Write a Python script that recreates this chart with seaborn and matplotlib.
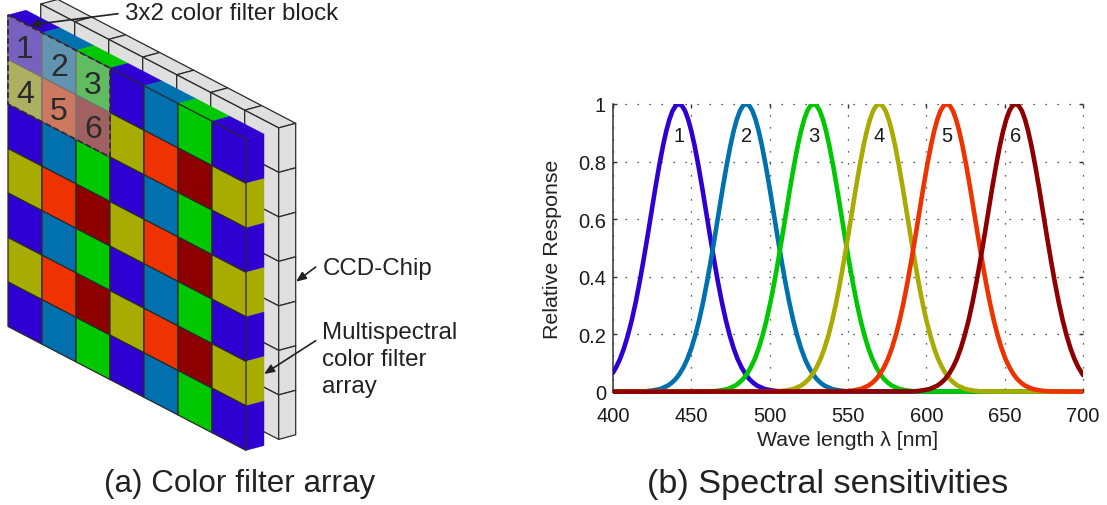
import pandas as pd
import seaborn as sns
import matplotlib.pyplot as plt
from matplotlib.patches import Polygon
from matplotlib.transforms import Bbox, TransformedBbox

# right panel : spectral curves
wave_1 = [400, 402, 404.5, 407, 409.5, 412, 414.5, 417, 419.5, 422, 424.5, 427, 429.5, 432, 434, 436, 438, 440, 442, 444, 446, 448, 450, 452, 454.5, 457, 459.5, 462, 464.5, 467, 469.5, 472, 474.5, 477, 479.5, 482, 484.5, 487, 489.5, 492, 497, 502, 507, 700]
resp_1 = [.066, .085, .114, .151, .196, .249, .311, .381, .458, .539, .623, .707, .786, .857, .906, .946, .976, .994, 1, .994, .976, .946, .906, .857, .786, .707, .623, .539, .458, .381, .311, .249, .196, .151, .114, .085, .062, .044, .031, .021, .009, .004, .001, 0]
wave_2 = [400, 420, 425, 430, 435, 437.5, 440, 442.5, 445, 447.5, 450, 452.5, 455, 457.5, 460, 462.5, 465, 467.5, 470, 472.5, 475, 477, 479, 481, 483, 485, 487, 489, 491, 493, 495, 497.5, 500, 502.5, 505, 507.5, 510, 512.5, 515, 517.5, 520, 522.5, 525, 527.5, 530, 532.5, 535, 540, 545, 550, 700]
resp_2 = [0, .001, .004, .009, .021, .031, .044, .062, .085, .114, .151, .196, .249, .311, .381, .458, .539, .623, .707, .786, .857, .906, .946, .976, .994, 1, .994, .976, .946, .906, .857, .786, .707, .623, .539, .458, .381, .311, .249, .196, .151, .114, .085, .062, .044, .031, .021, .009, .004, .001, 0]
wave_3 = [400, 463, 468, 473, 478, 480.5, 483, 485.5, 488, 490.5, 493, 495.5, 498, 500.5, 503, 505.5, 508, 510.5, 513, 515.5, 518, 520, 522, 524, 526, 528, 530, 532, 534, 536, 538, 540.5, 543, 545.5, 548, 550.5, 553, 555.5, 558, 560.5, 563, 565.5, 568, 570.5, 573, 575.5, 578, 583, 588, 593, 700]
resp_3 = [0, .001, .004, .009, .021, .031, .044, .062, .085, .114, .151, .196, .249, .311, .381, .458, .539, .623, .707, .786, .857, .906, .946, .976, .994, 1, .994, .976, .946, .906, .857, .786, .707, .623, .539, .458, .381, .311, .249, .196, .151, .114, .085, .062, .044, .031, .021, .009, .004, .001, 0]
wave_4 = [400, 505, 510, 515, 520, 522.5, 525, 527.5, 530, 532.5, 535, 537.5, 540, 542.5, 545, 547.5, 550, 552.5, 555, 557.5, 560, 562, 564, 566, 568, 570, 572, 574, 576, 578, 580, 582.5, 585, 587.5, 590, 592.5, 595, 597.5, 600, 602.5, 605, 607.5, 610, 612.5, 615, 617.5, 620, 625, 630, 635, 700]
resp_4 = [0, .001, .004, .009, .021, .031, .044, .062, .085, .114, .151, .196, .249, .311, .381, .458, .539, .623, .707, .786, .857, .906, .946, .976, .994, 1, .994, .976, .946, .906, .857, .786, .707, .623, .539, .458, .381, .311, .249, .196, .151, .114, .085, .062, .044, .031, .021, .009, .004, .001, 0]
wave_5 = [400, 548, 553, 558, 563, 565.5, 568, 570.5, 573, 575.5, 578, 580.5, 583, 585.5, 588, 590.5, 593, 595.5, 598, 600.5, 603, 605, 607, 609, 611, 613, 615, 617, 619, 621, 623, 625.5, 628, 630.5, 633, 635.5, 638, 640.5, 643, 645.5, 648, 650.5, 653, 655.5, 658, 660.5, 663, 668, 673, 678, 700]
resp_5 = [0, .001, .004, .009, .021, .031, .044, .062, .085, .114, .151, .196, .249, .311, .381, .458, .539, .623, .707, .786, .857, .906, .946, .976, .994, 1, .994, .976, .946, .906, .857, .786, .707, .623, .539, .458, .381, .311, .249, .196, .151, .114, .085, .062, .044, .031, .021, .009, .004, .001, 0]
wave_6 = [400, 592, 597, 602, 607, 609.5, 612, 614.5, 617, 619.5, 622, 624.5, 627, 629.5, 632, 634.5, 637, 639.5, 642, 644.5, 647, 649, 651, 653, 655, 657, 659, 661, 663, 665, 667, 669.5, 672, 674.5, 677, 679.5, 682, 684.5, 687, 689.5, 692, 694.5, 697, 700]
resp_6 = [0, .001, .004, .009, .021, .031, .044, .062, .085, .114, .151, .196, .249, .311, .381, .458, .539, .623, .707, .786, .857, .906, .946, .976, .994, 1, .994, .976, .946, .906, .857, .786, .707, .623, .539, .458, .381, .311, .249, .196, .151, .114, .085, .058]

filter_names = ["1", "2", "3", "4", "5", "6"]
peak_wave = [442, 485, 528, 570, 613, 657]
filter_colors = ["#2E00D2", "#0070AE", "#00C800", "#A8AC00", "#EE3300", "#8E0000"]
x_ticks = [400, 450, 500, 550, 600, 650, 700]
y_ticks = [0, 0.2, 0.4, 0.6, 0.8, 1]
y_tick_labels = ["0", "0.2", "0.4", "0.6", "0.8", "1"]

# left panel : layout of the filter array in pixels
n_cols, n_rows = 7, 7
col_step = (34.0, 17.7)
row_step = (0.0, 44.5)
filter_origin = (8.0, 16.0)
filter_depth = (18.0, -4.8)
chip_origin = (40.7, 5.0)
chip_depth = (17.0, -4.6)
chip_color = "#DFDFDF"
edge_color = "#2A2A2A"

sns.set_style("white")
plt.rcParams["font.family"] = ["Liberation Sans", "DejaVu Sans"]

W, H = 1107, 506
fig = plt.figure(figsize=(W / 100, H / 100), dpi=100)

# ---- left panel, drawn in pixel coords on a full figure axes
draw = fig.add_axes([0, 0, 1, 1])
draw.set_xlim(0, W)
draw.set_ylim(H, 0)
draw.axis("off")


def pt(origin, c, r, d=(0, 0)):
    return (origin[0] + c * col_step[0] + r * row_step[0] + d[0],
            origin[1] + c * col_step[1] + r * row_step[1] + d[1])


def quad(p, color, lw=0.9, z=1, edge=edge_color):
    draw.add_patch(Polygon(p, closed=True, facecolor=color, edgecolor=edge, lw=lw, zorder=z, joinstyle="round"))


# CCD chip, behind the filters
for c in range(n_cols):
    quad([pt(chip_origin, c, 0), pt(chip_origin, c + 1, 0), pt(chip_origin, c + 1, 0, chip_depth), pt(chip_origin, c, 0, chip_depth)], chip_color)
    for r in range(n_rows):
        quad([pt(chip_origin, c, r), pt(chip_origin, c + 1, r), pt(chip_origin, c + 1, r + 1), pt(chip_origin, c, r + 1)], chip_color)
for r in range(n_rows):
    quad([pt(chip_origin, n_cols, r), pt(chip_origin, n_cols, r, chip_depth), pt(chip_origin, n_cols, r + 1, chip_depth), pt(chip_origin, n_cols, r + 1)], chip_color)

# filter mosaic, 3x2 block repeated. top and side faces have no outline of their own
for c in range(n_cols):
    top = filter_colors[c % 3]
    quad([pt(filter_origin, c, 0), pt(filter_origin, c + 1, 0), pt(filter_origin, c + 1, 0, filter_depth), pt(filter_origin, c, 0, filter_depth)], top, lw=0.3, z=2, edge=top)
for r in range(n_rows):
    side = filter_colors[(n_cols - 1) % 3 + 3 * (r % 2)]
    quad([pt(filter_origin, n_cols, r), pt(filter_origin, n_cols, r, filter_depth), pt(filter_origin, n_cols, r + 1, filter_depth), pt(filter_origin, n_cols, r + 1)], side, lw=0.3, z=2, edge=side)
for c in range(n_cols):
    for r in range(n_rows):
        quad([pt(filter_origin, c, r), pt(filter_origin, c + 1, r), pt(filter_origin, c + 1, r + 1), pt(filter_origin, c, r + 1)], filter_colors[c % 3 + 3 * (r % 2)], z=2)

# highlighted block
block = [pt(filter_origin, 0, 0), pt(filter_origin, 3, 0), pt(filter_origin, 3, 2), pt(filter_origin, 0, 2)]
draw.add_patch(Polygon(block, closed=True, facecolor="#B2B2B2", alpha=0.55, edgecolor="none", zorder=3))
draw.add_patch(Polygon(block, closed=True, fill=False, edgecolor="#3A2636", lw=1.3, ls=(0, (3.2, 1.8)), zorder=4))
for i, name in enumerate(filter_names):
    c, r = i % 3, i // 3
    cx, cy = pt(filter_origin, c + 0.5, r + 0.5)
    draw.text(cx, cy + 3, name, fontsize=23, color="#2A2A2A", ha="center", va="center", zorder=5)

# annotations
draw.text(125, 13.5, "3x2 color filter block", fontsize=17.4, color="#222222", va="center")
draw.text(323, 268.5, "CCD-Chip", fontsize=17.4, color="#222222", va="center")
draw.text(322, 332.5, "Multispectral", fontsize=17.4, color="#222222", va="center")
draw.text(322, 359.5, "color filter", fontsize=17.4, color="#222222", va="center")
draw.text(322, 387.5, "array", fontsize=17.4, color="#222222", va="center")
arrow = dict(arrowstyle="-|>,head_length=0.6,head_width=0.25", color="#222222", lw=1.2, shrinkA=0, shrinkB=0)
draw.annotate("", xy=(30, 26), xytext=(118, 14.7), arrowprops=arrow, zorder=6)
draw.annotate("", xy=(296, 282.7), xytext=(315.7, 268), arrowprops=arrow, zorder=6)
draw.annotate("", xy=(264, 375), xytext=(315.7, 341.7), arrowprops=arrow, zorder=6)

# captions
draw.text(239.5, 484.5, "(a) Color filter array", fontsize=22.6, color="#222222", ha="center", va="center")
draw.text(828, 484.5, "(b) Spectral sensitivities", fontsize=24.7, color="#222222", ha="center", va="center")

# ---- right panel
ax = fig.add_axes([613 / W, 1 - 392.7 / H, 470 / W, 287.7 / H])
ax.patch.set_alpha(0)

frames = []
for name, w, v in zip(filter_names, [wave_1, wave_2, wave_3, wave_4, wave_5, wave_6], [resp_1, resp_2, resp_3, resp_4, resp_5, resp_6]):
    frames.append(pd.DataFrame({"wave": w, "resp": v, "filter": name}))
df = pd.concat(frames)

sns.lineplot(data=df, x="wave", y="resp", hue="filter", palette=filter_colors, estimator=None,
             sort=False, linewidth=3.3, legend=False, ax=ax, zorder=3)

ax.set_xlim(400, 700)
ax.set_ylim(0, 1)
ax.set_xticks(x_ticks)
ax.set_yticks(y_ticks)
ax.set_yticklabels(y_tick_labels)
ax.grid(True, color="#222222", lw=0.9, ls=(0, (1, 8.6)))
for g in ax.get_xgridlines() + ax.get_ygridlines():
    g.set_clip_on(False)
ax.tick_params(direction="in", length=3, width=1, color="#333333", labelsize=14.5, labelcolor="#1A1A1A",
               left=True, bottom=True, top=True, right=True)
ax.tick_params(axis="x", pad=10)
ax.tick_params(axis="y", pad=5)
ax.set_xlabel("Wave length λ [nm]", fontsize=15.3, color="#222222", va="center")
ax.set_ylabel("Relative Response", fontsize=15.4, color="#222222", va="center")
ax.xaxis.set_label_coords(0.5, (392.7 - 441) / 287.7)
ax.yaxis.set_label_coords((552 - 613) / 470, 0.5)
for s in ["top", "right"]:
    ax.spines[s].set_visible(False)
for s in ["left", "bottom"]:
    ax.spines[s].set_color("#333333")
    ax.spines[s].set_linewidth(1.1)

# the baseline stays whole, the peaks get cut at 1
clip = TransformedBbox(Bbox([[0, -0.02], [1, 1]]), ax.transAxes)
for line in ax.get_lines():
    if line not in ax.get_xgridlines() + ax.get_ygridlines():
        line.set_clip_box(clip)

for name, p in zip(filter_names, peak_wave):
    ax.text(p, 0.889, name, fontsize=14.5, color="#1A1A1A", ha="center", va="center", zorder=4)

plt.savefig("out.png", dpi=100)
